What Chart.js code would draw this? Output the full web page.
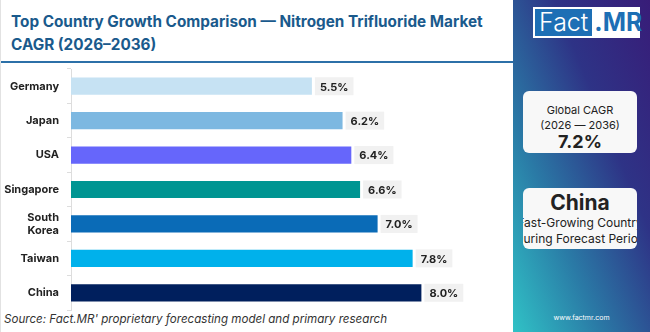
<!DOCTYPE html>
<html>
<head>
<meta charset="utf-8">
<script src="https://cdn.jsdelivr.net/npm/chart.js@4.4.1/dist/chart.umd.min.js"></script>
<style>
  html, body { margin: 0; padding: 0; }
  body { width: 650px; height: 332px; position: relative; overflow: hidden; background: #fff; font-family: Inter, "Noto Sans", sans-serif; }
  #main { position: absolute; left: 0; top: 0; width: 512px; height: 332px; border-left: 1px solid #e2e2e2; box-sizing: border-box; }
  #title { position: absolute; left: 10px; top: 10px; width: 500px; font-size: 15.3px; font-weight: 700; color: #1a5a8c; line-height: 23px; }
  #rule { position: absolute; left: 0; top: 61px; width: 512px; height: 2px; background: #2c70a8; }
  #chart { position: absolute; left: 0; top: 64px; }
  #source { position: absolute; left: 3px; top: 312px; font-size: 11.6px; font-style: italic; color: #333; }
  #side { position: absolute; left: 513px; top: 0; width: 137px; height: 332px;
    background: linear-gradient(to bottom left, #381c78 0%, #2e3386 35%, #2a7aa6 68%, #30c2c6 100%); }
  #logo { position: absolute; left: 20px; top: 7px; width: 107px; height: 31px; background: #fff; display: flex; font-size: 25px; line-height: 27px; }
  #logo .a { background: #1d6fb5; color: #fff; margin: 2px 0 2px 2px; padding: 0 4px; font-weight: 300; }
  #logo .b { color: #1d6fb5; font-weight: 700; padding: 2px 2px 0 2px; }
  .card { position: absolute; left: 10px; width: 114px; background: #f8f8f8; border-radius: 6px; text-align: center; color: #222; overflow: hidden; white-space: nowrap; }
  #cagr { top: 91px; height: 62px; font-size: 11px; line-height: 15px; padding-top: 12px; box-sizing: border-box; }
  #cagr b { font-size: 18px; display: block; line-height: 18px; }
  #fast { top: 188px; height: 61px; font-size: 12px; line-height: 16px; padding-top: 3px; box-sizing: border-box; }
  #fast b { font-size: 21px; display: block; line-height: 24px; }
  #fast span { display: block; margin-left: -10px; margin-right: -10px; }
  #url { position: absolute; left: 0; width: 137px; top: 313px; text-align: center; color: #fff; font-size: 7px; }
</style>
</head>
<body>
<div id="main">
  <div id="title">Top Country Growth Comparison — Nitrogen Trifluoride Market CAGR (2026–2036)</div>
  <div id="rule"></div>
  <canvas id="chart" width="512" height="248"></canvas>
  <div id="source">Source: Fact.MR' proprietary forecasting model and primary research</div>
</div>
<div id="side">
  <div id="logo"><span class="a">Fact</span><span class="b">.MR</span></div>
  <div class="card" id="cagr">Global CAGR<br>(2026 — 2036)<b>7.2%</b></div>
  <div class="card" id="fast"><b>China</b><span>Fast-Growing Country</span><span>During Forecast Period</span></div>
  <div id="url">www.factmr.com</div>
</div>
<script>
const countries = ["Germany", "Japan", "USA", "Singapore", ["South", "Korea"], "Taiwan", "China"];
const cagr = [5.5, 6.2, 6.4, 6.6, 7.0, 7.8, 8.0];
const barColors = ["#c6e2f3", "#7db8e1", "#6666fb", "#009592", "#0a6bb7", "#00b1eb", "#001f5d"];

const valueLabels = {
    id: "valueLabels",
    afterDatasetsDraw(chart) {
        const ctx = chart.ctx;
        const meta = chart.getDatasetMeta(0);
        ctx.save();
        ctx.font = "bold 11px Inter, 'Noto Sans', sans-serif";
        ctx.textBaseline = "middle";
        meta.data.forEach(function (bar, i) {
            const text = cagr[i].toFixed(1) + "%";
            const w = ctx.measureText(text).width;
            const x = bar.x + 3;
            ctx.fillStyle = "#f1f1f1";
            ctx.fillRect(x, bar.y - 9, w + 10, 18);
            ctx.fillStyle = "#222";
            ctx.fillText(text, x + 5, bar.y + 1);
        });
        ctx.restore();
    }
};

new Chart(document.getElementById("chart"), {
    type: "bar",
    data: {
        labels: countries,
        datasets: [{
            data: cagr,
            backgroundColor: barColors,
            barPercentage: 0.5,
            categoryPercentage: 1.0
        }]
    },
    options: {
        indexAxis: "y",
        responsive: false,
        animation: false,
        layout: { padding: { top: 5, right: 4, bottom: 2, left: 0 } },
        plugins: { legend: { display: false }, tooltip: { enabled: false } },
        scales: {
            x: { min: 0, max: 10, display: false },
            y: {
                afterFit: function (scale) {
                    scale.width = 70;
                    scale.paddingTop = 0;
                    scale.paddingBottom = 0;
                },
                grid: { drawOnChartArea: false, color: "#dddddd", tickLength: 4 },
                border: { color: "#dddddd" },
                ticks: { color: "#222", font: { family: "Inter, 'Noto Sans', sans-serif", size: 11, weight: "bold" }, padding: 8 }
            }
        }
    },
    plugins: [valueLabels]
});
</script>
</body>
</html>
